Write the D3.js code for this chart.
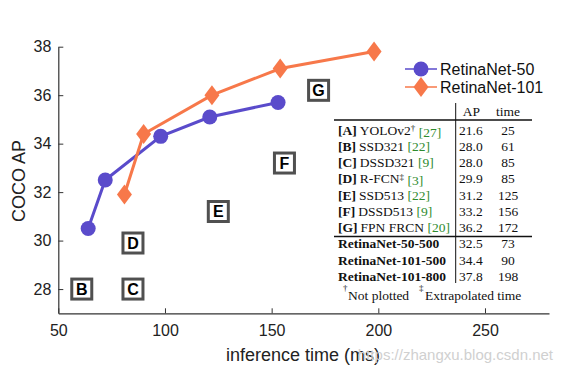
<!DOCTYPE html>
<html>
<head>
<meta charset="utf-8">
<script src="https://cdn.jsdelivr.net/npm/d3@7"></script>
<style>
  body { margin: 0; background: #fff; }
  svg { display: block; }
</style>
</head>
<body>
<svg id="chart" width="567" height="371"></svg>
<script>
// series
let retina50Time = [64, 72, 98, 121, 153];
let retina50AP = [30.5, 32.5, 34.3, 35.1, 35.7];
let retina101Time = [81, 90, 122, 154, 198];
let retina101AP = [31.9, 34.4, 36.0, 37.1, 37.8];

// table on the right (also used for the lettered boxes)
let tableKeys = ["A", "B", "C", "D", "E", "F", "G"];
let tableNames = ["YOLOv2", "SSD321", "DSSD321", "R-FCN", "SSD513", "DSSD513", "FPN FRCN"];
let tableMarks = ["\u2020", "", "", "\u2021", "", "", ""];
let tableRefs = ["27", "22", "9", "3", "22", "9", "20"];
let tableAP = [21.6, 28.0, 28.0, 29.9, 31.2, 33.2, 36.2];
let tableTime = [25, 61, 85, 85, 125, 156, 172];
let plotted = [false, true, true, true, true, true, true];

let retinaRows = ["RetinaNet-50-500", "RetinaNet-101-500", "RetinaNet-101-800"];
let retinaAP = [32.5, 34.4, 37.8];
let retinaTime = [73, 90, 198];

let xTicks = [50, 100, 150, 200, 250];
let yTicks = [28, 30, 32, 34, 36, 38];

let purple = "#5a4bcb";
let orange = "#f7784a";
let sans = "'Liberation Sans', Arial, sans-serif";
let serif = "'Liberation Serif', 'Times New Roman', serif";

let svg = d3.select("#chart");

let x = d3.scaleLinear().domain([50, 280]).range([58.3, 549]);
let y = d3.scaleLinear().domain([27, 38]).range([313.3, 46.7]);

// axes, matlab style ticks pointing inward
let xAxis = svg.append("g")
        .attr("transform", `translate(0,${y(27)})`)
        .call(d3.axisBottom(x).tickValues(xTicks).tickSize(-5).tickPadding(11).tickSizeOuter(0));
let yAxis = svg.append("g")
        .attr("transform", `translate(${x(50)},0)`)
        .call(d3.axisLeft(y).tickValues(yTicks).tickSize(-5).tickPadding(7).tickSizeOuter(0));

[xAxis, yAxis].forEach(a => {
        a.select(".domain").attr("stroke", "#333").attr("stroke-width", 1.2);
        a.selectAll(".tick line").attr("stroke", "#333");
        a.selectAll("text").attr("fill", "#222").style("font", `16px ${sans}`);
});

svg.append("text")
        .attr("x", 303).attr("y", 361)
        .attr("text-anchor", "middle")
        .attr("fill", "#222")
        .style("font", `18px ${sans}`)
        .text("inference time (ms)");

svg.append("text")
        .attr("transform", "translate(25,181) rotate(-90)")
        .attr("text-anchor", "middle")
        .attr("fill", "#222")
        .style("font", `18px ${sans}`)
        .text("COCO AP");

// lettered boxes for the other detectors
let boxes = svg.append("g")
        .selectAll("g")
        .data(tableKeys.map((k, i) => ({k, t: tableTime[i], ap: tableAP[i], show: plotted[i]})).filter(d => d.show))
        .join("g")
        .attr("transform", d => `translate(${x(d.t)},${y(d.ap)})`);
boxes.append("rect")
        .attr("x", -10).attr("y", -10).attr("width", 20).attr("height", 20)
        .attr("fill", "#fff").attr("stroke", "#505050").attr("stroke-width", 3);
boxes.append("text")
        .attr("text-anchor", "middle").attr("dy", "0.36em")
        .style("font", `bold 16px ${sans}`)
        .text(d => d.k);

// lines
let line = d3.line().x(d => x(d[0])).y(d => y(d[1]));
let s50 = d3.zip(retina50Time, retina50AP);
let s101 = d3.zip(retina101Time, retina101AP);

svg.append("path").datum(s50).attr("d", line)
        .attr("fill", "none").attr("stroke", purple).attr("stroke-width", 3);
svg.append("path").datum(s101).attr("d", line)
        .attr("fill", "none").attr("stroke", orange).attr("stroke-width", 3);

let diamond = "M0,-10L7.5,0L0,10L-7.5,0Z";

svg.append("g").selectAll("circle").data(s50).join("circle")
        .attr("cx", d => x(d[0])).attr("cy", d => y(d[1])).attr("r", 7.5)
        .attr("fill", purple);
svg.append("g").selectAll("path").data(s101).join("path")
        .attr("transform", d => `translate(${x(d[0])},${y(d[1])})`)
        .attr("d", diamond)
        .attr("fill", orange);

// legend
let legend = svg.append("g");
legend.append("line").attr("x1", 405).attr("x2", 437).attr("y1", 69).attr("y2", 69)
        .attr("stroke", purple).attr("stroke-width", 1.5);
legend.append("circle").attr("cx", 421).attr("cy", 69).attr("r", 7.5).attr("fill", purple);
legend.append("line").attr("x1", 405).attr("x2", 437).attr("y1", 87).attr("y2", 87)
        .attr("stroke", orange).attr("stroke-width", 1.5);
legend.append("path").attr("transform", "translate(421,87)").attr("d", diamond).attr("fill", orange);
legend.selectAll("text").data(["RetinaNet-50", "RetinaNet-101"]).join("text")
        .attr("x", 440).attr("y", (d, i) => 69 + i * 18).attr("dy", "0.36em")
        .attr("fill", "#111")
        .style("font", `16px ${sans}`)
        .text(d => d);

// table
let tbl = svg.append("g").style("font", `13.5px ${serif}`).attr("fill", "#111");
let rowY = i => 130 + i * 16.25;

tbl.append("line").attr("x1", 455.7).attr("x2", 455.7).attr("y1", 103).attr("y2", 283)
        .attr("stroke", "#111").attr("stroke-width", 1);
tbl.append("line").attr("x1", 334).attr("x2", 532).attr("y1", 120).attr("y2", 120)
        .attr("stroke", "#111").attr("stroke-width", 1.4);
tbl.append("line").attr("x1", 334).attr("x2", 532).attr("y1", 236.5).attr("y2", 236.5)
        .attr("stroke", "#111").attr("stroke-width", 1.4);

tbl.append("text").attr("x", 471.5).attr("y", 111).attr("dy", "0.35em")
        .attr("text-anchor", "middle").text("AP");
tbl.append("text").attr("x", 508).attr("y", 111).attr("dy", "0.35em")
        .attr("text-anchor", "middle").text("time");

let rows = tbl.append("g").selectAll("g")
        .data(tableKeys.map((k, i) => i))
        .join("g")
        .attr("transform", i => `translate(0,${rowY(i)})`);
let names = rows.append("text").attr("x", 338).attr("dy", "0.35em");
names.append("tspan").style("font-weight", "bold").text(i => `[${tableKeys[i]}]`);
names.append("tspan").attr("dx", 3).text(i => tableNames[i]);
names.append("tspan").attr("dy", "-0.4em").style("font-size", "9px").text(i => tableMarks[i]);
names.append("tspan").attr("dx", 3.5).attr("dy", i => tableMarks[i] ? "0.4em" : null)
        .attr("fill", "#2e8b2e").text(i => `[${tableRefs[i]}]`);
rows.append("text").attr("x", 459).attr("dy", "0.35em").text(i => tableAP[i].toFixed(1));
rows.append("text").attr("x", 508).attr("dy", "0.35em").attr("text-anchor", "middle").text(i => tableTime[i]);

let rrows = tbl.append("g").selectAll("g")
        .data(retinaRows.map((r, i) => i))
        .join("g")
        .attr("transform", i => `translate(0,${rowY(i + 7)})`);
rrows.append("text").attr("x", 338).attr("dy", "0.35em").style("font-weight", "bold").text(i => retinaRows[i]);
rrows.append("text").attr("x", 459).attr("dy", "0.35em").text(i => retinaAP[i].toFixed(1));
rrows.append("text").attr("x", 508).attr("dy", "0.35em").attr("text-anchor", "middle").text(i => retinaTime[i]);

// footnote
let foot = tbl.append("g").attr("transform", "translate(0,295)");
foot.append("text").attr("x", 343).attr("y", -4).style("font-size", "9px").text("\u2020");
foot.append("text").attr("x", 348).attr("dy", "0.35em").text("Not plotted");
foot.append("text").attr("x", 419).attr("y", -4).style("font-size", "9px").text("\u2021");
foot.append("text").attr("x", 425).attr("dy", "0.35em").text("Extrapolated time");

// watermark
svg.append("text")
        .attr("x", 553).attr("y", 360).attr("text-anchor", "end")
        .attr("fill", "#d0d0d0")
        .style("font", `15px ${sans}`)
        .text("https://zhangxu.blog.csdn.net");
</script>
</body>
</html>
